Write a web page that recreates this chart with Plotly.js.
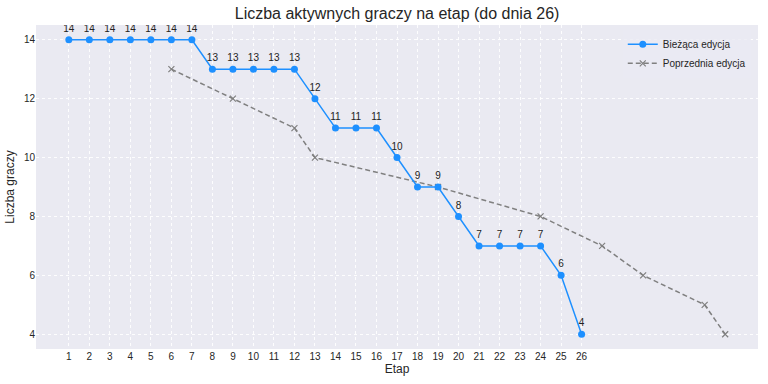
<!DOCTYPE html>
<html><head><meta charset="utf-8">
<script src="https://cdn.plot.ly/plotly-3.0.1.min.js"></script>
<style>body{margin:0;}#c{width:768px;height:384px;}</style>
</head><body><div id="c"></div>
<script>
const curX = [1,2,3,4,5,6,7,8,9,10,11,12,13,14,15,16,17,18,19,20,21,22,23,24,25,26];
const curY = [14,14,14,14,14,14,14,13,13,13,13,13,12,11,11,11,10,9,9,8,7,7,7,7,6,4];
const prevX = [6,9,12,13,19,24,27,29,32,33];
const prevY = [13,12,11,10,9,8,7,6,5,4];
const xTicks = curX;
const yTicks = [4,6,8,10,12,14];

const traces = [
  {x: prevX, y: prevY, mode: 'lines+markers', name: 'Poprzednia edycja',
   line: {color: '#808080', width: 1.5, dash: '5px,3px'},
   marker: {symbol: 'x-thin', size: 6, line: {color: '#808080', width: 1.2}, color: '#808080'}},
  {x: curX, y: curY, mode: 'lines+markers+text', name: 'Bieżąca edycja',
   text: curY.map(String), textposition: 'top center',
   textfont: {family: 'Liberation Sans, Arial, sans-serif', size: 10, color: '#222'},
   line: {color: '#1E90FF', width: 1.5},
   marker: {symbol: 'circle', size: 7, color: '#1E90FF'}}
];
const layout = {
  width: 768, height: 384,
  margin: {l: 36, r: 10, t: 25, b: 35},
  paper_bgcolor: '#ffffff', plot_bgcolor: '#EAEAF2',
  font: {family: 'Liberation Sans, Arial, sans-serif', color: '#262626'},
  title: {text: 'Liczba aktywnych graczy na etap (do dnia 26)', x: 0.517, xanchor: 'center', y: 0.965, yanchor: 'middle',
          font: {size: 16, color: '#262626'}},
  xaxis: {range: [-0.6, 34.6], tickvals: xTicks, ticktext: xTicks.map(String),
          showgrid: true, gridcolor: 'rgba(255,255,255,0.9)', griddash: 'dot', gridwidth: 1, zeroline: false,
          showline: false, ticks: '', tickfont: {size: 10, color: '#262626'},
          title: {text: 'Etap', font: {size: 12, color: '#262626'}, standoff: 2}},
  yaxis: {range: [3.5, 14.5], tickvals: yTicks,
          showgrid: true, gridcolor: 'rgba(255,255,255,0.9)', griddash: 'dot', gridwidth: 1, zeroline: false,
          showline: false, ticks: '', tickfont: {size: 10, color: '#262626'},
          title: {text: 'Liczba graczy', font: {size: 12, color: '#262626'}, standoff: 6}},
  legend: {x: 0.99, y: 0.985, xanchor: 'right', yanchor: 'top', bgcolor: 'rgba(234,234,242,0.8)',
           font: {size: 10, color: '#262626'}, traceorder: 'reversed', itemwidth: 30, tracegroupgap: 0},
  showlegend: true
};
Plotly.newPlot('c', traces, layout, {displayModeBar: false, staticPlot: true});
</script></body></html>
